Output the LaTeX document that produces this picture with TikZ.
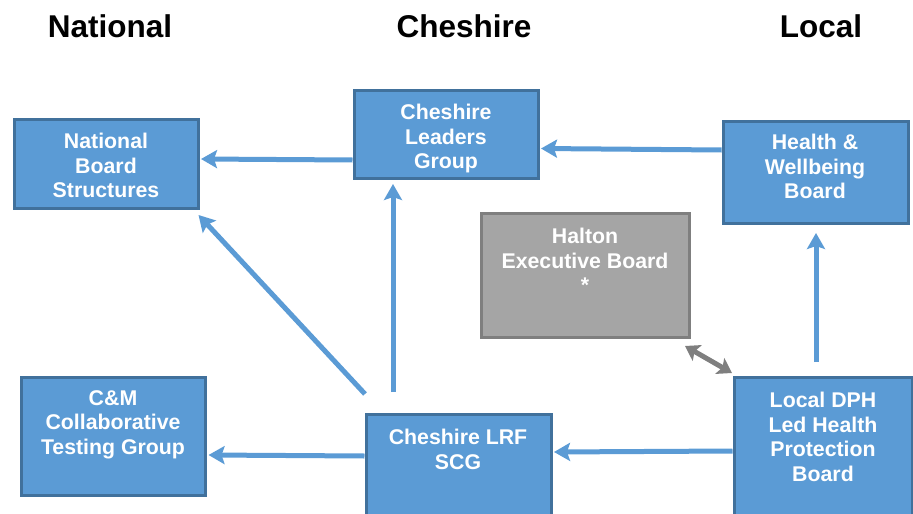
\documentclass[tikz,border=0pt]{standalone}
\usepackage{fontspec}
\setmainfont{Liberation Sans}
\usetikzlibrary{arrows.meta,calc}
\definecolor{boxblue}{HTML}{5B9BD5}
\definecolor{boxedge}{HTML}{41719C}
\definecolor{boxgray}{HTML}{A5A5A5}
\definecolor{grayedge}{HTML}{7F7F7F}
\definecolor{arrgray}{HTML}{7F7F7F}
\tikzset{
  bluebox/.style={draw=boxedge, fill=boxblue, line width=3pt, rectangle, inner sep=0pt},
  graybox/.style={draw=grayedge, fill=boxgray, line width=3pt, rectangle, inner sep=0pt},
  txt/.style={text=white, font=\bfseries\fontsize{21.3}{24.6}\selectfont, align=center, inner sep=0pt, anchor=north},
  title/.style={font=\bfseries\fontsize{31.5}{36}\selectfont, anchor=base, inner sep=0pt},
  arr/.style={draw=boxblue, line width=5pt, -{Stealth[length=16pt,width=18pt,inset=3pt]}},
  darr/.style={draw=arrgray, line width=5pt, {Stealth[length=14pt,width=18pt,inset=3pt]}-{Stealth[length=14pt,width=18pt,inset=3pt]}}
}
\begin{document}
\begin{tikzpicture}[x=1pt,y=-1pt]
\useasboundingbox (0,0) rectangle (913,514);
\clip (0,0) rectangle (913,514);
% titles
\node[title] (tnat) at (110,37) {National};
\node[title] (tche) at (464,37) {Cheshire};
\node[title] (tloc) at (821,37) {Local};
% boxes
\node[bluebox, minimum width=184pt, minimum height=89pt] (nbs) at (106,163.5) {};
\node[bluebox, minimum width=184pt, minimum height=88pt] (clg) at (446,134) {};
\node[bluebox, minimum width=185pt, minimum height=102pt] (hwb) at (815.7,172) {};
\node[graybox, minimum width=208pt, minimum height=123.6pt] (hal) at (585,275.5) {};
\node[bluebox, minimum width=178pt, minimum height=160pt] (dph) at (823,457.7) {};
\node[bluebox, minimum width=184.5pt, minimum height=118.3pt] (cm) at (113.3,436.8) {};
\node[bluebox, minimum width=185pt, minimum height=130pt] (lrf) at (458.5,479.3) {};
% texts
\node[txt] (nbst) at (106,133) {National\\Board\\Structures};
\node[txt] (clgt) at (446,104) {Cheshire\\Leaders\\Group};
\node[txt] (hwbt) at (815,134) {Health \&\\Wellbeing\\Board};
\node[txt] (halt) at (585,228) {Halton\\Executive Board\\*};
\node[txt] (dpht) at (823,392) {Local DPH\\Led Health\\Protection\\Board};
\node[txt] (cmt) at (113,390) {C\&M\\Collaborative\\Testing Group};
\node[txt] (lrft) at (458,429) {Cheshire LRF\\SCG};
% arrow end points
\coordinate (diagS) at (365,394);
\coordinate (diagE) at (198.5,215);
\coordinate (vertS) at (393,392);
\coordinate (vertE) at (393,184);
\coordinate (upS) at (816,362);
\coordinate (upE) at (816,233);
\coordinate (dA) at (685,346);
\coordinate (dB) at (732,373);
% connectors
\draw[arr] (clg.west |- 0,160) -- ($(nbs.east |- 0,159)+(1.5,0)$);
\draw[arr] (hwb.west |- 0,150) -- ($(clg.east |- 0,148.5)+(1.5,0)$);
\draw[arr] (diagS) -- (diagE);
\draw[arr] (vertS) -- (vertE);
\draw[arr] (lrf.west |- 0,456) -- ($(cm.east |- 0,455)+(1.5,0)$);
\draw[arr] (dph.west |- 0,451) -- ($(lrf.east |- 0,452)+(1.5,0)$);
\draw[arr] (upS) -- (upE);
\draw[darr] (dA) -- (dB);
\end{tikzpicture}
\end{document}
